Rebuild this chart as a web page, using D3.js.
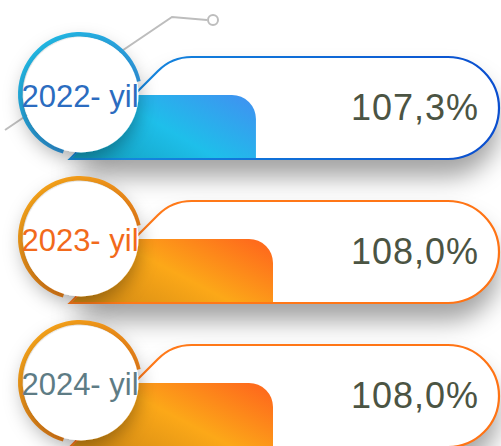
<!DOCTYPE html>
<html>
  <head>
    <script src="https://d3js.org/d3.v7.min.js"></script>
    <style>
      body { margin: 0; background: #fff; }
    </style>
  </head>
  <body>
    <script>

    const years = ["2022- yil", "2023- yil", "2024- yil"];
    const values = [107.3, 108.0, 108.0];

    // colours for each row
    const ringColors = [["#1ec6ec", "#3a8be6"], ["#ffb01a", "#f0731a"], ["#ffb01a", "#f0731a"]];
    const barColors = [["#13a2c2", "#1ebfea", "#3c96f0"], ["#d48c14", "#fca818", "#fe6c1c"], ["#d48c14", "#fca818", "#fe6c1c"]];
    const pillColors = [["#1590e0", "#0a4ecf"], ["#ff7b1a", "#ff7314"], ["#ff7b1a", "#ff7314"]];
    const labelColors = ["#2b6cc0", "#f26a1b", "#5e7c85"];

    const width = 501;
    const height = 446;

    const locale = d3.formatLocale({ decimal: ",", thousands: " ", grouping: [3], currency: ["", ""] });
    const fmt = v => locale.format(".1f")(v) + "%";

    const svg = d3.select("body").append("svg")
        .attr("width", width)
        .attr("height", height);

    const defs = svg.append("defs");

    defs.append("filter").attr("id", "pillShadow")
        .attr("x", "-20%").attr("y", "-30%").attr("width", "140%").attr("height", "200%")
      .append("feDropShadow")
        .attr("dx", 0).attr("dy", 18).attr("stdDeviation", 12)
        .attr("flood-color", "#000").attr("flood-opacity", 0.36);

    defs.append("filter").attr("id", "circleShadow")
        .attr("x", "-50%").attr("y", "-50%").attr("width", "200%").attr("height", "200%")
      .append("feDropShadow")
        .attr("dx", 0).attr("dy", 6).attr("stdDeviation", 10)
        .attr("flood-color", "#000").attr("flood-opacity", 0.35);

    years.forEach((y, i) => {
      const rg = defs.append("linearGradient").attr("id", "ring" + i)
          .attr("x1", 0).attr("y1", 0).attr("x2", 1).attr("y2", 1);
      rg.append("stop").attr("offset", "0%").attr("stop-color", ringColors[i][0]);
      rg.append("stop").attr("offset", "100%").attr("stop-color", ringColors[i][1]);

      const bg = defs.append("linearGradient").attr("id", "bar" + i)
          .attr("x1", 0).attr("y1", 0.8).attr("x2", 1).attr("y2", 0.2);
      bg.append("stop").attr("offset", "0%").attr("stop-color", barColors[i][0]);
      bg.append("stop").attr("offset", "50%").attr("stop-color", barColors[i][1]);
      bg.append("stop").attr("offset", "100%").attr("stop-color", barColors[i][2]);

      const pg = defs.append("linearGradient").attr("id", "pill" + i)
          .attr("x1", 0).attr("y1", 0).attr("x2", 1).attr("y2", 0);
      pg.append("stop").attr("offset", "0%").attr("stop-color", pillColors[i][0]);
      pg.append("stop").attr("offset", "100%").attr("stop-color", pillColors[i][1]);
    });

    const rowY = d3.scalePoint().domain(years).range([57, 345]);
    const x = d3.scaleLinear().domain([100, 108]).range([78, 273]);

    const pillH = 102;
    const pillLeft = 70;
    const pillRight = 499;
    const barTop = 38;
    const cx = 80;

    // decorative line
    svg.append("path")
        .attr("d", d3.line()([[5, 130], [172, 17], [207, 20]]))
        .attr("fill", "none")
        .attr("stroke", "#bdbdbd")
        .attr("stroke-width", 2);
    svg.append("circle")
        .attr("cx", 213).attr("cy", 20).attr("r", 5)
        .attr("fill", "#fff").attr("stroke", "#bdbdbd").attr("stroke-width", 2);

    function pillPath(t) {
      const b = t + pillH, R = pillH / 2, c = 14;
      const p = d3.path();
      p.moveTo(pillLeft, b);
      p.lineTo(pillLeft + pillH - c, t + c);
      p.quadraticCurveTo(pillLeft + pillH, t, pillLeft + pillH + c * 1.4, t);
      p.lineTo(pillRight - R, t);
      p.arc(pillRight - R, t + R, R, -Math.PI / 2, Math.PI / 2);
      p.lineTo(pillLeft, b);
      p.closePath();
      return p.toString();
    }

    function barPath(t, xe) {
      const b = t + pillH, top = t + barTop, h = b - top, r = 24;
      const p = d3.path();
      p.moveTo(pillLeft + 1, b);
      p.lineTo(pillLeft + 1 + h, top);
      p.lineTo(xe - r, top);
      p.arcTo(xe, top, xe, top + r, r);
      p.lineTo(xe, b);
      p.closePath();
      return p.toString();
    }

    const ringArc = d3.arc()
        .innerRadius(57.5)
        .outerRadius(62)
        .startAngle(196 * Math.PI / 180)
        .endAngle(438 * Math.PI / 180);

    const rows = svg.selectAll("g.row")
      .data(years)
      .enter().append("g")
        .attr("class", "row");

    rows.each(function(y, i) {
      const g = d3.select(this);
      const t = rowY(y);

      g.append("path")
          .attr("d", pillPath(t))
          .attr("fill", "#fff")
          .attr("filter", "url(#pillShadow)");

      g.append("path")
          .attr("d", barPath(t, x(values[i])))
          .attr("fill", `url(#bar${i})`);

      g.append("path")
          .attr("d", pillPath(t))
          .attr("fill", "none")
          .attr("stroke", `url(#pill${i})`)
          .attr("stroke-width", 2.2);

      g.append("text")
          .attr("x", 479)
          .attr("y", t + 63)
          .attr("text-anchor", "end")
          .attr("font-family", "Liberation Sans, Arial, sans-serif")
          .attr("font-size", 36)
          .attr("letter-spacing", 1)
          .attr("fill", "#4b5443")
          .text(fmt(values[i]));

      const cy = t + 37;
      g.append("path")
          .attr("transform", `translate(${cx},${cy})`)
          .attr("d", ringArc())
          .attr("fill", `url(#ring${i})`);

      g.append("circle")
          .attr("cx", cx + 1).attr("cy", cy + 1).attr("r", 57.5)
          .attr("fill", "#fff")
          .attr("filter", "url(#circleShadow)");

      g.append("text")
          .attr("x", cx)
          .attr("y", t + 50)
          .attr("text-anchor", "middle")
          .attr("font-family", "Liberation Sans, Arial, sans-serif")
          .attr("font-size", 31)
          .attr("fill", labelColors[i])
          .text(y);
    });

    </script>
  </body>
</html>
